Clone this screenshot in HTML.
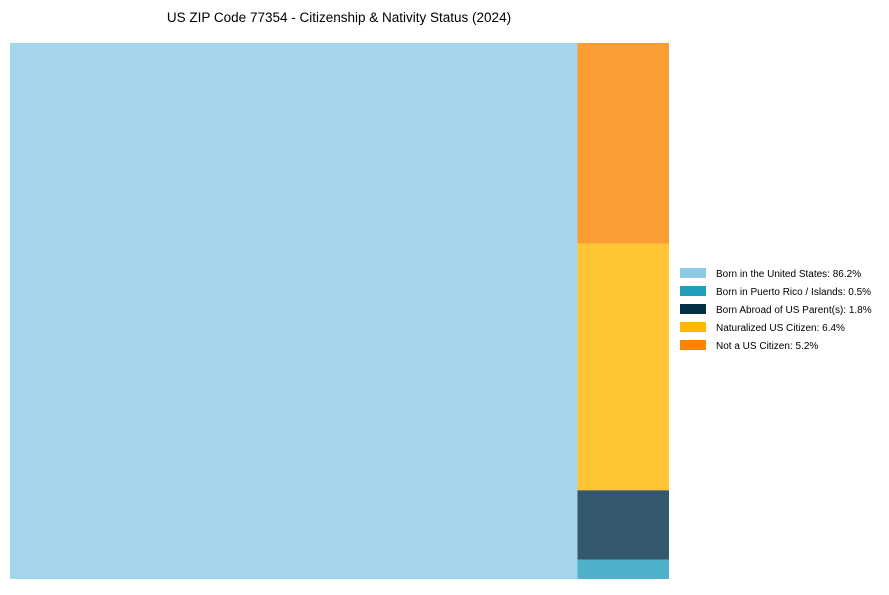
<!DOCTYPE html>
<html><head><meta charset="utf-8"><style>
body{margin:0;background:#fff;font-family:"Liberation Sans",Arial,sans-serif;}
#wrap{position:relative;width:889px;height:590px;}
</style></head><body>
<div id="wrap">
<svg id="svg" width="889" height="590">
<text x="339" y="22" text-anchor="middle" font-size="13.5" fill="#000">US ZIP Code 77354 - Citizenship &amp; Nativity Status (2024)</text>
<g id="tiles"></g>
<g id="legend"></g>
</svg>
</div>
<script>
const categories = ["Born in the United States", "Born in Puerto Rico / Islands", "Born Abroad of US Parent(s)", "Naturalized US Citizen", "Not a US Citizen"];
const values = [86.2, 0.5, 1.8, 6.4, 5.2];
const colors = ["#8ecae6", "#219ebc", "#023047", "#ffb703", "#fb8500"];
const NS = "http://www.w3.org/2000/svg";
const X0 = 10, X1 = 669, Y0 = 43, Y1 = 579;
const W = X1 - X0, H = Y1 - Y0;
const total = values.reduce((a, b) => a + b, 0);
const tiles = document.getElementById('tiles');
function rect(x, y, w, h, c, name) {
  const r = document.createElementNS(NS, 'rect');
  r.setAttribute('x', x); r.setAttribute('y', y);
  r.setAttribute('width', w); r.setAttribute('height', h);
  r.setAttribute('fill', c); r.setAttribute('fill-opacity', 0.8);
  
  
  tiles.appendChild(r);
}
const w0 = W * values[0] / total;
rect(X0, Y0, w0, H, colors[0], 'tile-born-in-us');
const restTotal = total - values[0];
let y = Y0;
for (let i = values.length - 1; i >= 1; i--) {
  const h = H * values[i] / restTotal;
  rect(X0 + w0, y, W - w0, h, colors[i], 'tile-' + i);
  y += h;
}
const lg = document.getElementById('legend');
categories.forEach((c, i) => {
  const ly = 268 + i * 18;
  const s = document.createElementNS(NS, 'rect');
  s.setAttribute('x', 680); s.setAttribute('y', ly);
  s.setAttribute('width', 26); s.setAttribute('height', 10);
  s.setAttribute('fill', colors[i]);
  
  
  lg.appendChild(s);
  const t = document.createElementNS(NS, 'text');
  t.setAttribute('x', 716); t.setAttribute('y', ly + 9);
  t.setAttribute('font-size', 10); t.setAttribute('fill', '#000');
  t.textContent = c + ': ' + values[i] + '%';
  
  
  lg.appendChild(t);
});
</script>
</body></html>
